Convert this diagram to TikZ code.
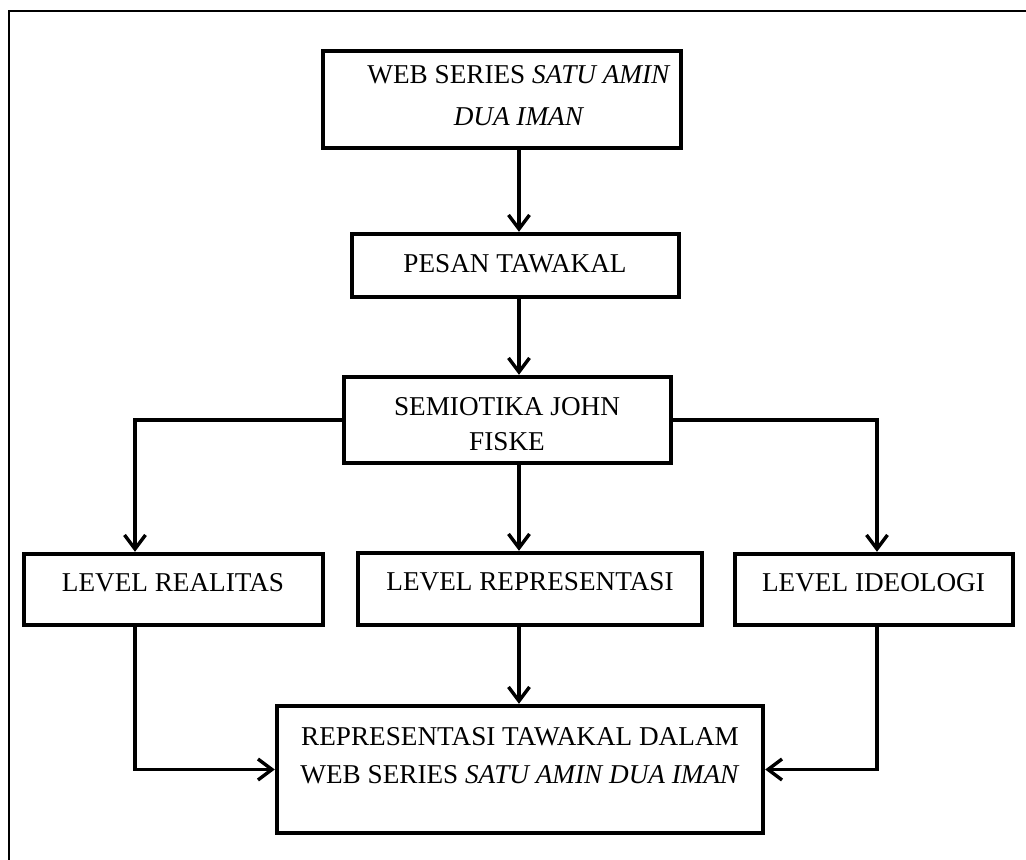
\documentclass[tikz,border=0pt]{standalone}
\usepackage{fontspec}
\setmainfont{Liberation Serif}
\usetikzlibrary{arrows.meta}
\begin{document}
\begin{tikzpicture}[x=0.5pt,y=-0.5pt,
 boxstyle/.style={draw, line width=2.2pt, inner sep=0pt, rectangle},
 txt/.style={font=\fontsize{13.6}{19}\selectfont, align=center, inner sep=0pt},
 conn/.style={line width=1.6pt, -{Straight Barb[length=7pt,width=10.5pt,line width=1.7pt]}}]
\useasboundingbox (0,0) rectangle (1026,860);
\draw[line width=1pt] (9,11) rectangle (1045,880);
% boxes
\node[boxstyle, minimum width=179pt, minimum height=48.5pt] (b1) at (502,99.5) {};
\node[boxstyle, minimum width=163.5pt, minimum height=31.5pt] (b2) at (515.5,265.5) {};
\node[boxstyle, minimum width=163.5pt, minimum height=43pt] (b3) at (507.5,420) {};
\node[boxstyle, minimum width=149.5pt, minimum height=35.5pt] (b4) at (173.5,589.5) {};
\node[boxstyle, minimum width=172pt, minimum height=36pt] (b5) at (530,589) {};
\node[boxstyle, minimum width=139pt, minimum height=35.5pt] (b6) at (874,589.5) {};
\node[boxstyle, minimum width=243pt, minimum height=63.5pt] (b7) at (520,769.5) {};
% texts
\node[txt, font=\fontsize{13.6}{21}\selectfont] (t1) at (519,96) {WEB SERIES \textit{SATU AMIN}\\\textit{DUA IMAN}};
\node[txt] (t2) at (515,264) {PESAN TAWAKAL};
\node[txt, font=\fontsize{13.6}{17.5}\selectfont] (t3) at (507,424.5) {SEMIOTIKA JOHN\\FISKE};
\node[txt] (t4) at (173,583) {LEVEL REALITAS};
\node[txt] (t5) at (530,582) {LEVEL REPRESENTASI};
\node[txt] (t6) at (873.5,583) {LEVEL IDEOLOGI};
\node[txt] (t7) at (520,756) {REPRESENTASI TAWAKAL DALAM\\WEB SERIES \textit{SATU AMIN DUA IMAN}};
% connectors
\coordinate (cx) at (519,0);
\coordinate (lx) at (135,0);
\coordinate (rx) at (877,0);
\draw[conn] (b1.south -| cx) -- (b2.north -| cx);
\draw[conn] (b2.south -| cx) -- (b3.north -| cx);
\draw[conn] (b3.south -| cx) -- (b5.north -| cx);
\draw[conn] (b3.west) -| (b4.north -| lx);
\draw[conn] (b3.east) -| (b6.north -| rx);
\draw[conn] (b5.south -| cx) -- (b7.north -| cx);
\draw[conn] (b4.south -| lx) |- (b7.west);
\draw[conn] (b6.south -| rx) |- (b7.east);
\end{tikzpicture}
\end{document}
